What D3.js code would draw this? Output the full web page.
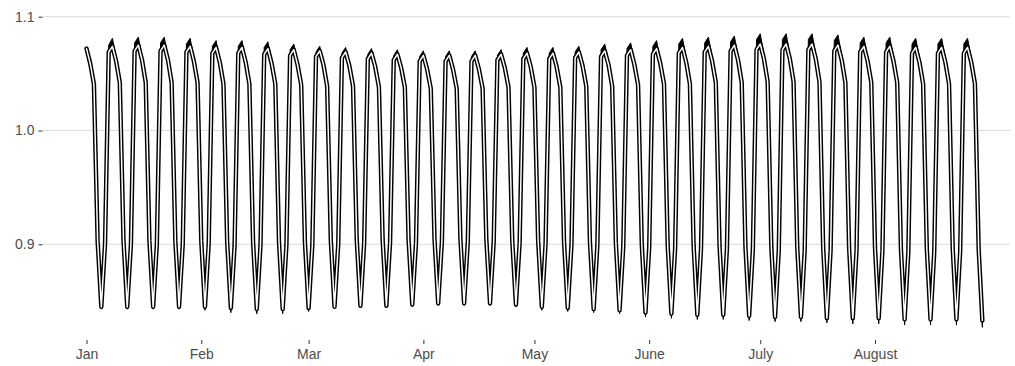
<!DOCTYPE html>
<html>
<head>
<meta charset="utf-8">
<script src="https://cdn.jsdelivr.net/npm/d3@7"></script>
<style>
  html, body { margin: 0; padding: 0; background: #fff; }
  svg { display: block; }
</style>
</head>
<body>
<svg id="chart" width="1015" height="366"></svg>
<script>
// ---- data ----
const startDate = "2016-01-01";
const monthTicks = ["2016-01-01","2016-02-01","2016-03-01","2016-04-01","2016-05-01","2016-06-01","2016-07-01","2016-08-01"];
const monthLabels = ["Jan","Feb","Mar","Apr","May","June","July","August"];
const yTicks = [0.9, 1.0, 1.1];
const yTickLabels = ["0.9","1.0","1.1"];

// daily estimate (one value per day from startDate)
const meanValues = [
  1.072,1.059,1.041,0.903,0.845,0.900,1.069,
  1.074,1.061,1.042,0.903,0.845,0.900,1.070,
  1.075,1.062,1.042,0.903,0.845,0.900,1.070,
  1.075,1.062,1.042,0.903,0.845,0.900,1.069,
  1.074,1.061,1.042,0.903,0.845,0.900,1.068,
  1.073,1.060,1.041,0.902,0.844,0.899,1.068,
  1.073,1.060,1.041,0.902,0.843,0.899,1.067,
  1.072,1.059,1.041,0.902,0.843,0.899,1.066,
  1.071,1.058,1.040,0.902,0.844,0.899,1.065,
  1.070,1.058,1.039,0.903,0.845,0.900,1.064,
  1.069,1.057,1.039,0.904,0.846,0.901,1.063,
  1.068,1.056,1.038,0.904,0.846,0.901,1.062,
  1.067,1.055,1.038,0.904,0.847,0.901,1.061,
  1.066,1.054,1.037,0.905,0.848,0.902,1.061,
  1.066,1.054,1.037,0.905,0.848,0.902,1.061,
  1.066,1.054,1.037,0.905,0.848,0.902,1.062,
  1.067,1.055,1.038,0.904,0.847,0.901,1.063,
  1.068,1.056,1.038,0.903,0.845,0.900,1.063,
  1.068,1.056,1.038,0.902,0.844,0.899,1.064,
  1.069,1.057,1.039,0.902,0.843,0.899,1.065,
  1.070,1.058,1.039,0.901,0.842,0.898,1.066,
  1.071,1.058,1.040,0.900,0.840,0.897,1.067,
  1.072,1.059,1.041,0.899,0.839,0.896,1.068,
  1.073,1.060,1.041,0.899,0.838,0.896,1.069,
  1.074,1.061,1.042,0.899,0.838,0.896,1.070,
  1.075,1.062,1.042,0.898,0.837,0.895,1.071,
  1.076,1.063,1.043,0.897,0.836,0.894,1.071,
  1.076,1.063,1.043,0.897,0.836,0.894,1.071,
  1.076,1.063,1.043,0.897,0.835,0.894,1.070,
  1.075,1.062,1.042,0.897,0.835,0.894,1.069,
  1.074,1.061,1.042,0.897,0.835,0.894,1.069,
  1.074,1.061,1.042,0.896,0.834,0.893,1.068,
  1.073,1.060,1.041,0.896,0.834,0.893,1.068,
  1.073,1.060,1.041,0.896,0.834,0.893,1.068,
  1.073,1.060,1.041,0.896,0.833
];

// how far the uncertainty band reaches above the estimate, per day
const upperSpread = [
  0,0,0,0,0,0,.006,
  .007,.003,0,0,0,0,.007,
  .007,.003,0,0,0,0,.007,
  .007,.003,0,0,0,0,.007,
  .007,.003,0,0,0,0,.006,
  .006,.003,0,0,0,0,.006,
  .006,.003,0,0,0,0,.006,
  .006,.003,0,0,0,0,.005,
  .005,.002,0,0,0,0,.004,
  .004,.002,0,0,0,0,.004,
  .004,.002,0,0,0,0,.004,
  .004,.002,0,0,0,0,.004,
  .004,.002,0,0,0,0,.004,
  .004,.002,0,0,0,0,.004,
  .004,.002,0,0,0,0,.004,
  .004,.002,0,0,0,0,.004,
  .004,.002,0,0,0,0,.005,
  .005,.002,0,0,0,0,.005,
  .005,.002,0,0,0,0,.005,
  .005,.002,0,0,0,0,.006,
  .006,.003,0,0,0,0,.006,
  .006,.003,0,0,0,0,.007,
  .007,.003,0,0,0,0,.008,
  .008,.004,0,0,0,0,.008,
  .008,.004,0,0,0,0,.008,
  .008,.004,0,0,0,0,.009,
  .009,.004,0,0,0,0,.009,
  .009,.004,0,0,0,0,.009,
  .009,.004,0,0,0,0,.009,
  .009,.004,0,0,0,0,.008,
  .008,.004,0,0,0,0,.008,
  .008,.004,0,0,0,0,.008,
  .008,.004,0,0,0,0,.008,
  .008,.004,0,0,0,0,.008,
  .008,.004,0,0,0
];

// how far the uncertainty band reaches below the estimate, per day
const lowerSpread = [
  0,0,0,.001,.002,.001,0,
  0,0,0,.001,.002,.001,0,
  0,0,0,.001,.002,.001,0,
  0,0,0,.001,.002,.001,0,
  0,0,0,.001,.003,.001,0,
  0,0,0,.002,.004,.002,0,
  0,0,0,.002,.004,.002,0,
  0,0,0,.002,.004,.002,0,
  0,0,0,.002,.003,.001,0,
  0,0,0,.001,.0015,.001,0,
  0,0,0,.001,.0015,.001,0,
  0,0,0,.001,.0015,.001,0,
  0,0,0,.001,.0015,.001,0,
  0,0,0,.001,.0015,.001,0,
  0,0,0,.001,.0015,.001,0,
  0,0,0,.001,.0015,.001,0,
  0,0,0,.001,.002,.001,0,
  0,0,0,.0015,.003,.0015,0,
  0,0,0,.0015,.003,.0015,0,
  0,0,0,.0015,.003,.0015,0,
  0,0,0,.0015,.003,.0015,0,
  0,0,0,.002,.004,.002,0,
  0,0,0,.002,.004,.002,0,
  0,0,0,.002,.004,.002,0,
  0,0,0,.002,.004,.002,0,
  0,0,0,.002,.004,.002,0,
  0,0,0,.002,.004,.002,0,
  0,0,0,.002,.004,.002,0,
  0,0,0,.002,.004,.002,0,
  0,0,0,.002,.005,.002,0,
  0,0,0,.002,.005,.002,0,
  0,0,0,.0025,.005,.0025,0,
  0,0,0,.0025,.005,.0025,0,
  0,0,0,.0025,.005,.0025,0,
  0,0,0,.003,.006
];

// ---- chart ----
const svg = d3.select("#chart");
const panel = { left: 43, right: 1010, top: 5, bottom: 340 };

const parse = d3.utcParse("%Y-%m-%d");
const t0 = parse(startDate);
const rows = meanValues.map((v, i) => ({
  date: d3.utcDay.offset(t0, i),
  mean: v,
  upper: v + upperSpread[i],
  lower: v - lowerSpread[i]
}));

const x = d3.scaleUtc()
  .domain([parse("2016-01-01"), parse("2016-08-01")])
  .range([86.5, 875]);

const y = d3.scaleLinear()
  .domain([0.9, 1.1])
  .range([244.3, 16.7]);

const font = "'Liberation Sans', Arial, sans-serif";

// gridlines
svg.append("g")
  .selectAll("line")
  .data(yTicks)
  .join("line")
  .attr("x1", panel.left).attr("x2", panel.right)
  .attr("y1", d => y(d)).attr("y2", d => y(d))
  .attr("stroke", "#dcdcdc").attr("stroke-width", 1);

// y axis
const yAxis = d3.axisLeft(y)
  .tickValues(yTicks)
  .tickFormat((d, i) => yTickLabels[i])
  .tickSize(4).tickPadding(4);
const gy = svg.append("g")
  .attr("transform", `translate(${panel.left - 0.5},0)`)
  .call(yAxis);
gy.select(".domain").remove();
gy.selectAll(".tick line").attr("stroke", "#333").attr("stroke-width", 1);
gy.selectAll(".tick text")
  .attr("fill", "#4d4d4d")
  .style("font-family", font)
  .style("font-size", "14px");

// x axis
const xAxis = d3.axisBottom(x)
  .tickValues(monthTicks.map(parse))
  .tickFormat((d, i) => monthLabels[i])
  .tickSize(4).tickPadding(5);
const gx = svg.append("g")
  .attr("transform", `translate(0,${panel.bottom})`)
  .call(xAxis);
gx.select(".domain").remove();
gx.selectAll(".tick line").attr("stroke", "#333").attr("stroke-width", 1);
gx.selectAll(".tick text")
  .attr("fill", "#4d4d4d")
  .style("font-family", font)
  .style("font-size", "14px");

// uncertainty band
const area = d3.area()
  .x(d => x(d.date))
  .y0(d => y(d.lower))
  .y1(d => y(d.upper));
svg.append("path")
  .datum(rows)
  .attr("d", area)
  .attr("fill", "#000")
  .attr("stroke", "#000")
  .attr("stroke-width", 1)
  .attr("stroke-linejoin", "round");

// estimate: black casing + white core
const line = d3.line()
  .x(d => x(d.date))
  .y(d => y(d.mean));
svg.append("path")
  .datum(rows)
  .attr("d", line)
  .attr("fill", "none")
  .attr("stroke", "#000")
  .attr("stroke-width", 4.4)
  .attr("stroke-linejoin", "round")
  .attr("stroke-linecap", "round");
svg.append("path")
  .datum(rows)
  .attr("d", line)
  .attr("fill", "none")
  .attr("stroke", "#fff")
  .attr("stroke-width", 1.5)
  .attr("stroke-linejoin", "round")
  .attr("stroke-linecap", "round");
</script>
</body>
</html>
